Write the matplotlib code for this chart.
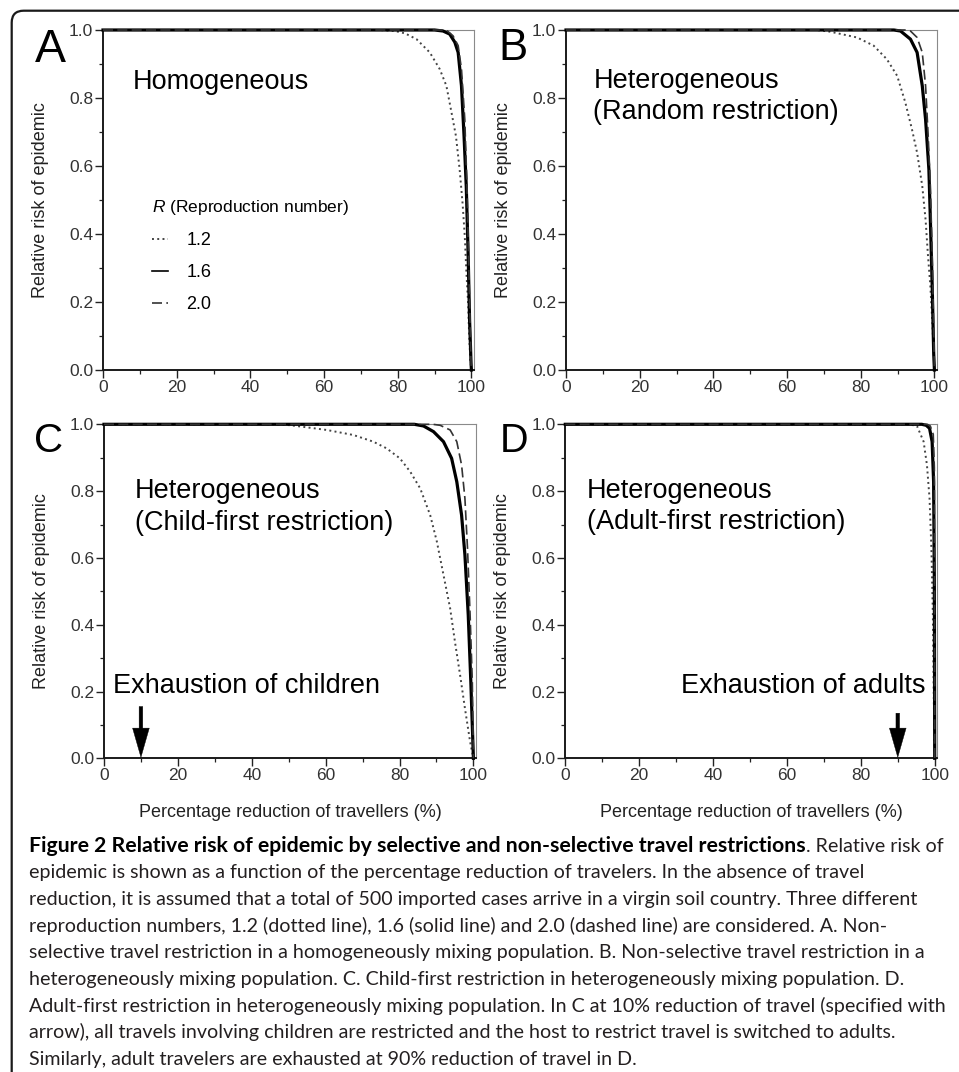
import matplotlib
matplotlib.use("Agg")
import matplotlib.pyplot as plt
from matplotlib.ticker import MultipleLocator, FormatStrFormatter
from matplotlib.patches import FancyBboxPatch

plt.rcParams['font.family'] = ['Liberation Sans', 'DejaVu Sans']
plt.rcParams['mathtext.fontset'] = 'custom'
plt.rcParams['mathtext.it'] = 'Liberation Sans:italic'
plt.rcParams['mathtext.rm'] = 'Liberation Sans'

# ---------------- data ----------------
x_ticks = [0, 20, 40, 60, 80, 100]
y_ticks = [0.0, 0.2, 0.4, 0.6, 0.8, 1.0]
r_labels = ["1.2", "1.6", "2.0"]
panel_letters = ["A", "B", "C", "D"]
panel_titles = [["Homogeneous"],
                ["Heterogeneous", "(Random restriction)"],
                ["Heterogeneous", "(Child-first restriction)"],
                ["Heterogeneous", "(Adult-first restriction)"]]
exhaustion_labels = [None, None, "Exhaustion of children", "Exhaustion of adults"]
exhaustion_x = [None, None, 10, 90]
x_label = "Percentage reduction of travellers (%)"
y_label = "Relative risk of epidemic"

# Panel A (homogeneous)
A_r12_x = [0, 75, 79.3, 82, 85.1, 88.7, 91.4, 93.2, 94.6, 95.8, 96.8, 97.6, 98.2, 98.6, 99.1, 99.4, 99.7, 100]
A_r12_y = [1, 1, 0.997, 0.99, 0.973, 0.934, 0.885, 0.836, 0.757, 0.688, 0.59, 0.49, 0.393, 0.295, 0.197, 0.098, 0.03, 0]
A_r16_x = [0, 90, 92.3, 94.1, 95.5, 96.4, 97.3, 98.0, 98.6, 99.1, 99.5, 99.9, 100]
A_r16_y = [1, 1, 0.997, 0.988, 0.964, 0.934, 0.836, 0.688, 0.54, 0.345, 0.147, 0.02, 0]
A_r20_x = [0, 92, 93.5, 95.0, 96.4, 97.3, 98.2, 98.8, 99.4, 99.9, 100]
A_r20_y = [1, 1, 0.997, 0.983, 0.954, 0.885, 0.737, 0.54, 0.25, 0.02, 0]

# Panel B (heterogeneous, random restriction)
B_r12_x = [0, 68, 71.7, 79.0, 83.5, 87.1, 89.9, 92.1, 93.9, 95.3, 96.7, 97.6, 98.2, 98.9, 99.4, 99.8, 100]
B_r12_y = [1, 1, 0.995, 0.978, 0.954, 0.914, 0.865, 0.787, 0.708, 0.639, 0.541, 0.442, 0.344, 0.246, 0.147, 0.049, 0]
B_r16_x = [0, 89, 90.8, 93.5, 95.3, 96.7, 97.6, 98.5, 98.9, 99.4, 99.8, 100]
B_r16_y = [1, 1, 0.997, 0.973, 0.934, 0.836, 0.737, 0.59, 0.442, 0.246, 0.05, 0]
B_r20_x = [0, 92, 93.5, 95.3, 96.7, 97.6, 98.3, 98.9, 99.4, 99.8, 100]
B_r20_y = [1, 1, 0.997, 0.978, 0.934, 0.836, 0.69, 0.54, 0.34, 0.12, 0]

# Panel C (heterogeneous, child-first restriction)
C_r12_x = [0, 48, 52.1, 60.3, 67.5, 72.9, 76.5, 80.1, 82.9, 85.6, 88.3, 90.1, 91.9, 93.7, 95.0, 96.4, 97.7, 99.1, 100]
C_r12_y = [1, 1, 0.995, 0.983, 0.968, 0.948, 0.928, 0.898, 0.858, 0.808, 0.728, 0.649, 0.549, 0.449, 0.349, 0.249, 0.15, 0.05, 0]
C_r16_x = [0, 84, 86.5, 89.2, 91.9, 94.1, 95.5, 96.8, 97.7, 98.6, 99.3, 100]
C_r16_y = [1, 1, 0.995, 0.978, 0.948, 0.898, 0.828, 0.728, 0.609, 0.429, 0.229, 0]
C_r20_x = [0, 89, 91, 93.7, 95.5, 96.8, 97.7, 98.4, 99.1, 99.7, 100]
C_r20_y = [1, 1, 0.997, 0.983, 0.948, 0.878, 0.778, 0.629, 0.43, 0.23, 0]

# Panel D (heterogeneous, adult-first restriction)
D_r12_x = [0, 93, 95.2, 97.0, 97.9, 98.6, 99.1, 99.5, 99.7, 99.9, 100]
D_r12_y = [1, 1, 0.995, 0.948, 0.878, 0.778, 0.629, 0.43, 0.23, 0.05, 0]
D_r16_x = [0, 96.5, 97.7, 98.6, 99.3, 99.7, 99.9, 100]
D_r16_y = [1, 1, 0.997, 0.988, 0.948, 0.828, 0.53, 0]
D_r20_x = [0, 98, 98.8, 99.6, 99.9, 100]
D_r20_y = [1, 1, 0.995, 0.97, 0.87, 0]

caption_bold = "Figure 2 Relative risk of epidemic by selective and non-selective travel restrictions"
caption_lines = [
    ". Relative risk of",
    "epidemic is shown as a function of the percentage reduction of travelers. In the absence of travel",
    "reduction, it is assumed that a total of 500 imported cases arrive in a virgin soil country. Three different",
    "reproduction numbers, 1.2 (dotted line), 1.6 (solid line) and 2.0 (dashed line) are considered. A. Non-",
    "selective travel restriction in a homogeneously mixing population. B. Non-selective travel restriction in a",
    "heterogeneously mixing population. C. Child-first restriction in heterogeneously mixing population. D.",
    "Adult-first restriction in heterogeneously mixing population. In C at 10% reduction of travel (specified with",
    "arrow), all travels involving children are restricted and the host to restrict travel is switched to adults.",
    "Similarly, adult travelers are exhausted at 90% reduction of travel in D.",
]

panels = [
    (A_r12_x, A_r12_y, A_r16_x, A_r16_y, A_r20_x, A_r20_y),
    (B_r12_x, B_r12_y, B_r16_x, B_r16_y, B_r20_x, B_r20_y),
    (C_r12_x, C_r12_y, C_r16_x, C_r16_y, C_r20_x, C_r20_y),
    (D_r12_x, D_r12_y, D_r16_x, D_r16_y, D_r20_x, D_r20_y),
]

# ---------------- layout ----------------
W, H = 959, 1072
fig = plt.figure(figsize=(W / 100, H / 100), dpi=100)
fig.patch.set_facecolor("white")


def fx(px):
    return px / W


def fy(py):
    return 1 - py / H


# outer rounded frame (only top-left part visible)
frame = FancyBboxPatch((0.117, -0.5), 10.5, 10.72 - 0.107 + 0.5,
                       boxstyle="round,pad=0,rounding_size=0.12",
                       transform=fig.dpi_scale_trans, fill=False,
                       edgecolor="#1a1a1a", linewidth=1.6, zorder=0)
fig.patches.append(frame)

axes_px = [(103, 30, 474, 370), (566, 30, 937, 370),
           (104, 424.3, 476, 758.3), (565.3, 424.3, 937.3, 758.3)]
letter_pos = [(35, 61.7, 33.5), (498, 60, 31.5), (34, 451.5, 29), (500, 451.7, 28.5)]
title_pos = [(8.2, [0.826]), (7.4, [0.828, 0.737]), (8.3, [0.778, 0.683]), (5.8, [0.778, 0.686])]
exh_text_pos = [None, None, (2.4, 0.195, "left"), (97.5, 0.195, "right")]
arrow_top = [None, None, 0.155, 0.135]

tick_col = "#333333"
for i, (l, t, r, b) in enumerate(axes_px):
    ax = fig.add_axes([fx(l), fy(b), (r - l) / W, (b - t) / H])
    x12, y12, x16, y16, x20, y20 = panels[i]
    h12, = ax.plot(x12, y12, color="#444444", lw=1.4, ls=(0, (1, 1.7)), clip_on=False, zorder=3)
    h16, = ax.plot(x16, y16, color="black", lw=2.3, ls="-", clip_on=False, zorder=4,
                   solid_joinstyle="round")
    h20, = ax.plot(x20, y20, color="#333333", lw=1.2, ls=(0, (6, 2.6)), clip_on=False, zorder=5)

    ax.set_xlim(0, 100.7)
    ax.set_ylim(0, 1.0)
    ax.set_xticks(x_ticks)
    ax.set_yticks(y_ticks)
    ax.xaxis.set_minor_locator(MultipleLocator(10))
    ax.yaxis.set_minor_locator(MultipleLocator(0.1))
    ax.yaxis.set_major_formatter(FormatStrFormatter("%.1f"))
    ax.tick_params(which="major", direction="out", length=5.5, width=1.0,
                   color="#222222", labelcolor=tick_col, labelsize=12.5, pad=1.5)
    ax.tick_params(which="minor", direction="out", length=3, width=0.9, color="#222222")
    for s in ("top", "right"):
        ax.spines[s].set_color("#8a8a8a")
        ax.spines[s].set_linewidth(0.8)
    for s in ("left", "bottom"):
        ax.spines[s].set_color("#1a1a1a")
        ax.spines[s].set_linewidth(1.4)

    ax.set_ylabel(y_label, fontsize=13, color="#222222")
    ax.yaxis.set_label_coords(-0.145, 0.5)
    if i >= 2:
        ax.set_xlabel(x_label, fontsize=13, color="#222222")
        ax.xaxis.label.set_va("baseline")
        ax.xaxis.set_label_coords(0.5, -0.175)

    # panel titles
    tx, tys = title_pos[i]
    for line, ty in zip(panel_titles[i], tys):
        ax.text(tx, ty, line, fontsize=19.5, color="black", va="baseline", ha="left")

    # exhaustion annotations
    if exhaustion_labels[i]:
        ex, ey, eha = exh_text_pos[i]
        ax.text(ex, ey, exhaustion_labels[i], fontsize=19.5, color="black",
                va="baseline", ha=eha)
        ax.annotate("", xy=(exhaustion_x[i], 0.003), xytext=(exhaustion_x[i], arrow_top[i]),
                    arrowprops=dict(facecolor="black", edgecolor="black", width=2.6,
                                    headwidth=12, headlength=21, shrink=0, linewidth=0.3))

    if i == 0:
        sol_handle = plt.Line2D([], [], color="black", lw=1.2)
        ax.legend([h12, sol_handle, h20], r_labels, title=r"$R$ (Reproduction number)",
                  loc="upper left", bbox_to_anchor=(0.132, 0.505), frameon=False,
                  fontsize=13, title_fontsize=12.5, handlelength=0.9,
                  handletextpad=1.0, labelspacing=0.83, borderpad=0,
                  borderaxespad=0, alignment="left")

    lx, lb, ls_ = letter_pos[i]
    fig.text(fx(lx), fy(lb), panel_letters[i], fontsize=ls_, color="black",
             va="baseline", ha="left")

# ---------------- caption ----------------
renderer = fig.canvas.get_renderer()
cap_font = ["Lato", "DejaVu Sans"]
cap_left = 29
baselines = [851.7, 878.3, 905, 931.7, 958.3, 985, 1011.7, 1038.3, 1064.5]

probe = fig.text(fx(cap_left), fy(baselines[2]), caption_lines[2], fontsize=10,
                 family=cap_font, va="baseline")
wprobe = probe.get_window_extent(renderer).width
cap_size = 10 * (919 - cap_left) / wprobe
probe.remove()

tb = fig.text(fx(cap_left), fy(baselines[0]), caption_bold, fontsize=10,
              family=cap_font, fontweight="bold", color="black", va="baseline")
wb = tb.get_window_extent(renderer).width
bold_size = min(10 * (814 - cap_left) / wb, cap_size * 1.08)
tb.set_fontsize(bold_size)
bb = tb.get_window_extent(renderer)
fig.text(bb.x1 / W, fy(baselines[0]), caption_lines[0], fontsize=cap_size,
         family=cap_font, color="#231f20", va="baseline")
for line, yb in zip(caption_lines[1:], baselines[1:]):
    fig.text(fx(cap_left), fy(yb), line, fontsize=cap_size, family=cap_font,
             color="#231f20", va="baseline")

fig.savefig("out.png", dpi=100, facecolor="white")
